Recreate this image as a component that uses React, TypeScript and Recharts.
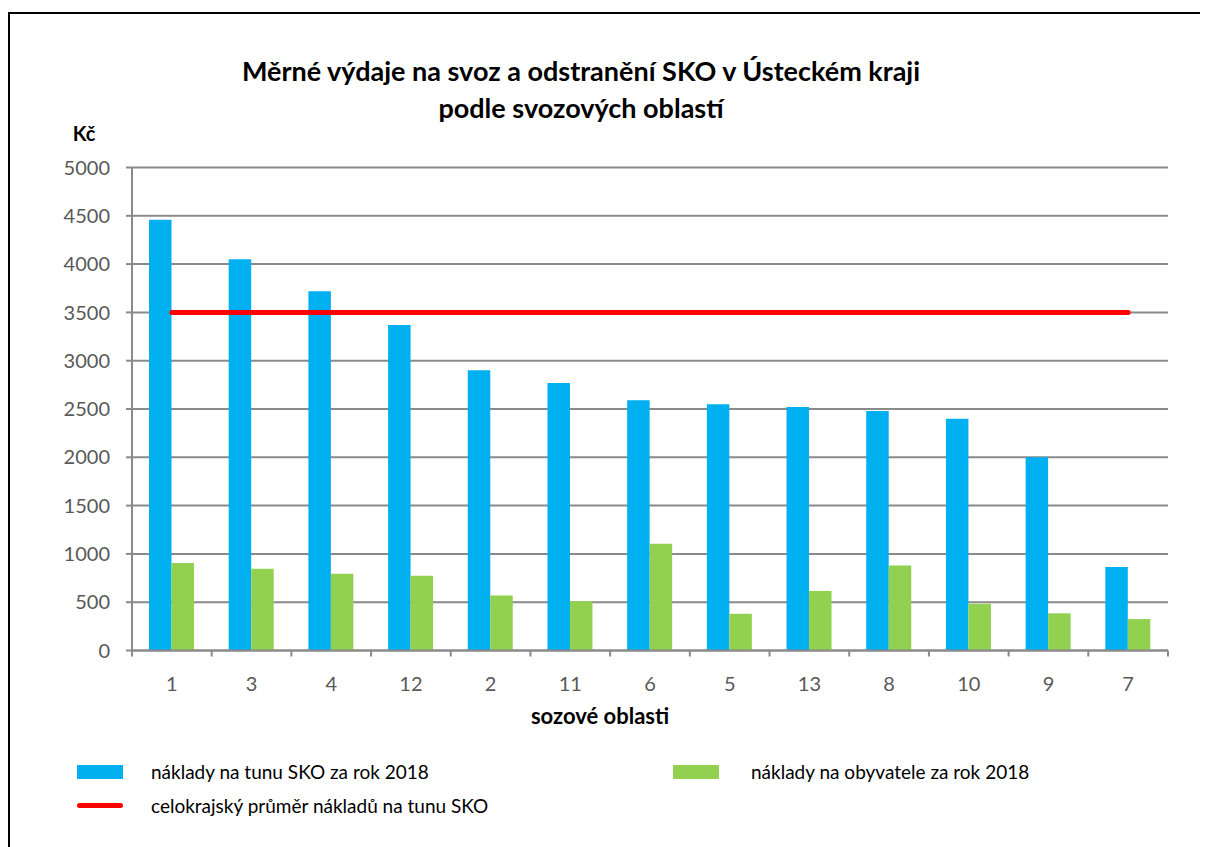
import React from 'react';
import { BarChart, Bar, Line, XAxis, YAxis, CartesianGrid } from 'recharts';

// Collection areas, ordered by cost per tonne
const categories = ['1', '3', '4', '12', '2', '11', '6', '5', '13', '8', '10', '9', '7'];
// Cost per tonne of mixed municipal waste (Kč), 2018
const costPerTonne = [4460, 4050, 3720, 3370, 2900, 2770, 2590, 2550, 2520, 2480, 2400, 2000, 865];
// Cost per inhabitant (Kč), 2018
const costPerCapita = [905, 845, 795, 775, 570, 510, 1105, 380, 615, 880, 485, 385, 325];
// Region-wide average cost per tonne
const regionalAverage = 3500;
const yTicks = [0, 500, 1000, 1500, 2000, 2500, 3000, 3500, 4000, 4500, 5000];

const seriesInfo = [
  { key: 'tonne', name: 'náklady na tunu SKO za rok 2018', color: '#00B0F0' },
  { key: 'capita', name: 'náklady na obyvatele za rok 2018', color: '#92D050' },
  { key: 'avg', name: 'celokrajský průměr nákladů na tunu SKO', color: '#FF0000' },
];

const data = categories.map((name, i) => ({
  name,
  tonne: costPerTonne[i],
  capita: costPerCapita[i],
  avg: regionalAverage,
}));

const FONT = 'Lato, "Open Sans", sans-serif';
const AXIS_GREY = '#8a8a8a';
const TEXT_GREY = '#595959';

const CHART_W = 1198;
const CHART_H = 840;
const MARGIN = { top: 153.5, right: 40, left: 60, bottom: 163.5 };
const Y_AXIS_W = 62;
const HALF_BAND = (CHART_W - MARGIN.left - MARGIN.right - Y_AXIS_W) / categories.length / 2;

// Category label with tick marks on the band boundaries
const CategoryTick = (props: any) => {
  const { x, y, payload, index } = props;
  const axisY = y - 26;
  return (
    <g>
      <line x1={x - HALF_BAND} x2={x - HALF_BAND} y1={axisY} y2={axisY + 6} stroke={AXIS_GREY} strokeWidth={2} />
      {index === categories.length - 1 && (
        <line x1={x + HALF_BAND} x2={x + HALF_BAND} y1={axisY} y2={axisY + 6} stroke={AXIS_GREY} strokeWidth={2} />
      )}
      <text x={x} y={y} dy="0.71em" textAnchor="middle" fill={TEXT_GREY} fontSize={20} fontFamily={FONT}>
        {payload.value}
      </text>
    </g>
  );
};

export default function App() {
  return (
    <div
      style={{
        position: 'relative',
        top: 4,
        width: CHART_W,
        height: CHART_H,
        borderTop: '2px solid #000',
        borderLeft: '2px solid #000',
        overflow: 'hidden',
        fontFamily: FONT,
        color: '#000',
      }}
    >
      <style>{'html, body { overflow: hidden; }'}</style>
      <div
        style={{
          position: 'absolute',
          left: 0,
          top: 37.5,
          width: 1142,
          textAlign: 'center',
          fontWeight: 700,
          fontSize: 27,
          lineHeight: '37px',
          whiteSpace: 'nowrap',
        }}
      >
        Měrné výdaje na svoz a odstranění SKO v Ústeckém kraji
        <br />
        podle svozových oblastí
      </div>
      <div style={{ position: 'absolute', left: 54, top: 107, width: 40, textAlign: 'center', fontWeight: 700, fontSize: 20, lineHeight: '24px' }}>
        Kč
      </div>

      <BarChart width={CHART_W} height={CHART_H} data={data} margin={MARGIN} barGap={0} barSize={22.5}>
        <CartesianGrid vertical={false} stroke={AXIS_GREY} strokeWidth={2} />
        <XAxis
          dataKey="name"
          height={40}
          axisLine={{ stroke: AXIS_GREY, strokeWidth: 2 }}
          tickLine={false}
          tickSize={6}
          tickMargin={20}
          tick={<CategoryTick />}
          interval={0}
        />
        <YAxis
          width={Y_AXIS_W}
          domain={[0, 5000]}
          ticks={yTicks}
          interval={0}
          axisLine={{ stroke: AXIS_GREY, strokeWidth: 2 }}
          tickLine={{ stroke: AXIS_GREY, strokeWidth: 2 }}
          tickSize={6}
          tickMargin={16}
          tick={{ fill: TEXT_GREY, fontSize: 20, fontFamily: FONT }}
        />
        <Bar dataKey="tonne" fill={seriesInfo[0].color} isAnimationActive={false} />
        <Bar dataKey="capita" fill={seriesInfo[1].color} isAnimationActive={false} />
        <Line
          dataKey="avg"
          stroke={seriesInfo[2].color}
          strokeWidth={5}
          strokeLinecap="round"
          dot={false}
          activeDot={false}
          isAnimationActive={false}
        />
      </BarChart>

      <div style={{ position: 'absolute', left: 490, top: 688, width: 200, textAlign: 'center', fontWeight: 700, fontSize: 22, lineHeight: '28px', whiteSpace: 'nowrap' }}>
        sozové oblasti
      </div>

      {/* Legend */}
      <div style={{ position: 'absolute', left: 67, top: 751, width: 46, height: 14, background: seriesInfo[0].color }} />
      <div style={{ position: 'absolute', left: 141, top: 746, fontSize: 19, lineHeight: '24px', whiteSpace: 'nowrap' }}>{seriesInfo[0].name}</div>
      <div style={{ position: 'absolute', left: 663, top: 751, width: 46, height: 14, background: seriesInfo[1].color }} />
      <div style={{ position: 'absolute', left: 741, top: 746, fontSize: 19, lineHeight: '24px', whiteSpace: 'nowrap' }}>{seriesInfo[1].name}</div>
      <div style={{ position: 'absolute', left: 67, top: 788.5, width: 46, height: 5, borderRadius: 3, background: seriesInfo[2].color }} />
      <div style={{ position: 'absolute', left: 141, top: 780, fontSize: 19, lineHeight: '24px', whiteSpace: 'nowrap' }}>{seriesInfo[2].name}</div>
    </div>
  );
}
